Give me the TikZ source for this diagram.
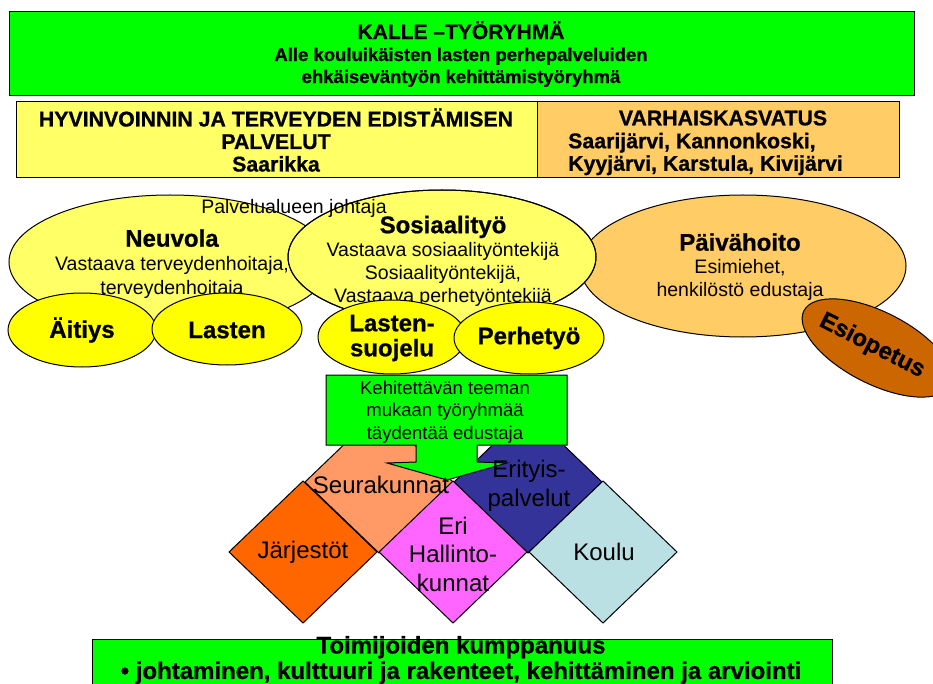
\documentclass[tikz,border=0pt]{standalone}
\usepackage{fontspec}
\setmainfont{Liberation Sans}[BoldFeatures={FakeBold=0.8}]
\usetikzlibrary{calc}

\definecolor{kallegreen}{RGB}{0,255,0}
\definecolor{paleyellow}{RGB}{255,255,102}
\definecolor{paleorange}{RGB}{255,204,102}
\definecolor{brightyellow}{RGB}{255,255,0}
\definecolor{esibrown}{RGB}{204,102,0}
\definecolor{salmonfill}{RGB}{255,153,102}
\definecolor{deeporange}{RGB}{255,102,0}
\definecolor{pinkfill}{RGB}{255,102,255}
\definecolor{navyfill}{RGB}{51,51,153}
\definecolor{paleblue}{RGB}{187,224,227}

\begin{document}
\begin{tikzpicture}[x=1pt,y=-1pt,
  outl/.style={draw=black,line width=1pt},
  plaintxt/.style={inner sep=0pt,align=center,font=\fontsize{19.5}{23}\selectfont},
  headtxt/.style={inner sep=0pt,align=center,font=\bfseries\fontsize{18.5}{22}\selectfont},
  rowtxt/.style={inner sep=0pt,align=center,font=\bfseries\fontsize{21.3}{22.5}\selectfont},
  bubtxt/.style={inner sep=0pt,align=center,font=\bfseries\fontsize{24}{25}\selectfont},
  diatxt/.style={inner sep=0pt,align=center,font=\fontsize{24}{28.5}\selectfont}]
  \useasboundingbox (0,0) rectangle (933,684);
  % top boxes
  \filldraw[fill=kallegreen,outl] (9,12) rectangle (914,96);
  \node[headtxt] (kalle) at (461,54) {{\fontsize{21}{22}\selectfont KALLE –TYÖRYHMÄ}\\Alle kouluikäisten lasten perhepalveluiden\\ehkäiseväntyön kehittämistyöryhmä};
  \filldraw[fill=paleyellow,outl] (16,102) rectangle (537,178);
  \filldraw[fill=paleorange,outl] (537,102) rectangle (899,178);
  \node[rowtxt] (hyte) at (276,140) {HYVINVOINNIN JA TERVEYDEN EDISTÄMISEN\\PALVELUT\\Saarikka};
  \node[rowtxt] (varhais) at (723,118) {VARHAISKASVATUS};
  \node[rowtxt,align=left,anchor=west] (kunnat) at (568,154) {Saarijärvi, Kannonkoski,\\Kyyjärvi, Karstula, Kivijärvi};
  % big ellipses
  \filldraw[fill=paleyellow,outl] (170,262) ellipse [x radius=161, y radius=67];
  \node[plaintxt,font=\fontsize{19.5}{24}\selectfont] (neuvola) at (172,264) {\textbf{\fontsize{24}{24}\selectfont Neuvola}\\Vastaava terveydenhoitaja,\\terveydenhoitaja};
  \filldraw[fill=paleorange,outl] (743,266) ellipse [x radius=163, y radius=71];
  \node[plaintxt] (paiva) at (740,267) {\textbf{\fontsize{24}{24}\selectfont Päivähoito}\\Esimiehet,\\henkilöstö edustaja};
  \filldraw[fill=paleyellow,outl] (442,257) ellipse [x radius=154, y radius=67];
  \node[plaintxt] (sosiaali) at (443,261) {\textbf{\fontsize{24}{24}\selectfont Sosiaalityö}\\Vastaava sosiaalityöntekijä\\Sosiaalityöntekijä,\\Vastaava perhetyöntekijä};
  \node[plaintxt] (johtaja) at (294,208) {Palvelualueen johtaja};
  \draw[outl] (442,257) ellipse [x radius=154, y radius=67];
  % small ellipses
  \filldraw[fill=brightyellow,outl] (82,330) ellipse [x radius=74, y radius=37];
  \filldraw[fill=brightyellow,outl] (227,329) ellipse [x radius=75, y radius=36];
  \filldraw[fill=brightyellow,outl] (392,337) ellipse [x radius=74, y radius=37];
  \filldraw[fill=brightyellow,outl] (529,338) ellipse [x radius=75, y radius=36];
  \node[bubtxt] (aitiys) at (82,330) {Äitiys};
  \node[bubtxt] (lasten) at (227,330) {Lasten};
  \node[bubtxt] (suojelu) at (392,338) {Lasten-\\suojelu};
  \node[bubtxt] (perhe) at (529,338) {Perhetyö};
  \filldraw[fill=esibrown,outl,rotate around={-27:(877,348)}] (877,348) ellipse [x radius=82, y radius=36];
  \node[bubtxt,rotate=-27] (esi) at (872,346) {Esiopetus};
  % diamonds, back row
  \foreach \cx/\cy/\col in {379/482/salmonfill,528/482/navyfill}
    \filldraw[fill=\col,outl] (\cx,\cy-71) -- (\cx+74,\cy) -- (\cx,\cy+71) -- (\cx-74,\cy) -- cycle;
  % callout
  \filldraw[fill=kallegreen,outl] (326,375) -- (567,375) -- (567,445) -- (477,445) -- (477,462)
    -- (507,463) -- (447,480) -- (387,463) -- (416,462) -- (416,445) -- (326,445) -- cycle;
  \node[plaintxt,font=\fontsize{18.5}{22.5}\selectfont] (teema) at (445,412) {Kehitettävän teeman\\mukaan työryhmää\\täydentää edustaja};
  % diamonds, front row
  \foreach \cx/\cy/\col in {303/552/deeporange,453/552/pinkfill,603/552/paleblue}
    \filldraw[fill=\col,outl] (\cx,\cy-71) -- (\cx+74,\cy) -- (\cx,\cy+71) -- (\cx-74,\cy) -- cycle;
  \node[diatxt] (seura) at (381,485) {Seurakunnat};
  \node[diatxt] (erityis) at (529,486) {Erityis-\\palvelut};
  \node[diatxt] (jarj) at (303,552) {Järjestöt};
  \node[diatxt] (eri) at (453,554) {Eri\\Hallinto-\\kunnat};
  \node[diatxt] (koulu) at (604,552) {Koulu};
  % bottom box
  \filldraw[fill=kallegreen,outl] (92,639) rectangle (832,700);
  \node[rowtxt,font=\bfseries\fontsize{24}{25.5}\selectfont] (kump) at (461,660) {Toimijoiden kumppanuus\\• johtaminen, kulttuuri ja rakenteet, kehittäminen ja arviointi};
\end{tikzpicture}
\end{document}
